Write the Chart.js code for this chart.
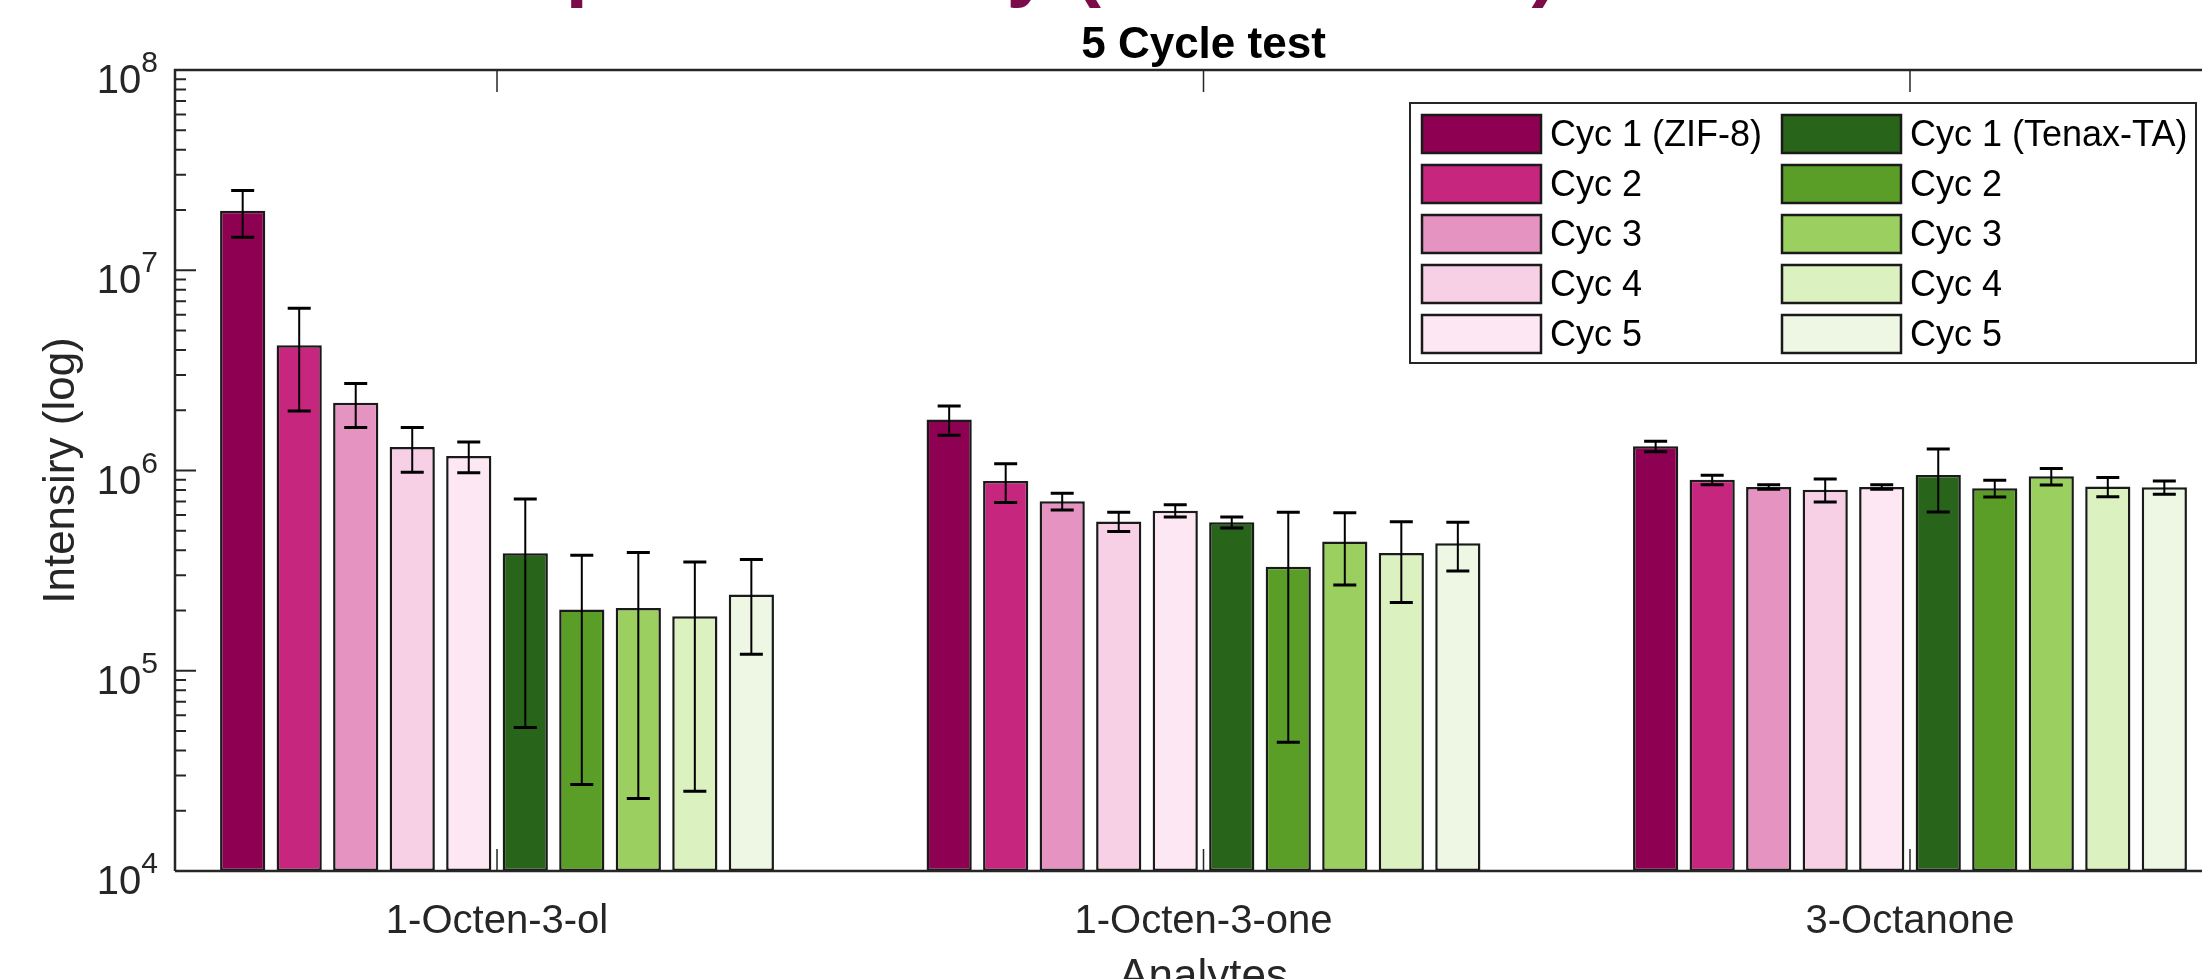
<!DOCTYPE html>
<html>
<head>
<meta charset="utf-8">
<script src="https://cdn.jsdelivr.net/npm/chart.js@4.4.1/dist/chart.umd.min.js"></script>
<style>
  html, body { margin: 0; padding: 0; background: #fff; overflow: hidden; }
  #wrap { width: 2202px; height: 979px; overflow: hidden; }
  canvas { display: block; }
</style>
</head>
<body>
<div id="wrap"><canvas id="graficoCiclos" width="2240" height="1010"></canvas></div>
<script>
// ── Data ──────────────────────────────────
const categories = ['1-Octen-3-ol', '1-Octen-3-one', '3-Octanone'];
const seriesLabels = ['Cyc 1 (ZIF-8)', 'Cyc 2', 'Cyc 3', 'Cyc 4', 'Cyc 5',
                      'Cyc 1 (Tenax-TA)', 'Cyc 2', 'Cyc 3', 'Cyc 4', 'Cyc 5'];
const yTickValues = [1e4, 1e5, 1e6, 1e7, 1e8];

const zifCyc1   = [1.98e7, 1.80e6, 1.32e6];
const zifCyc2   = [4.22e6, 8.87e5, 8.98e5];
const zifCyc3   = [2.18e6, 7.02e5, 8.28e5];
const zifCyc4   = [1.31e6, 5.57e5, 8.02e5];
const zifCyc5   = [1.18e6, 6.30e5, 8.28e5];
const tenaxCyc1 = [3.86e5, 5.51e5, 9.50e5];
const tenaxCyc2 = [2.02e5, 3.31e5, 8.15e5];
const tenaxCyc3 = [2.06e5, 4.42e5, 9.35e5];
const tenaxCyc4 = [1.87e5, 3.87e5, 8.31e5];
const tenaxCyc5 = [2.40e5, 4.33e5, 8.24e5];

// standard deviations (error bars)
const zifErr1   = [5.2e6, 3.0e5, 8.0e4];
const zifErr2   = [2.24e6, 1.94e5, 5.0e4];
const zifErr3   = [5.4e5, 6.7e4, 2.1e4];
const zifErr4   = [3.3e5, 6.1e4, 1.05e5];
const zifErr5   = [2.06e5, 4.4e4, 2.1e4];
const tenaxErr1 = [3.34e5, 3.5e4, 3.3e5];
const tenaxErr2 = [1.75e5, 2.87e5, 7.8e4];
const tenaxErr3 = [1.83e5, 1.74e5, 8.8e4];
const tenaxErr4 = [1.62e5, 1.68e5, 9.1e4];
const tenaxErr5 = [1.19e5, 1.18e5, 6.2e4];

const seriesValues = [zifCyc1, zifCyc2, zifCyc3, zifCyc4, zifCyc5,
                      tenaxCyc1, tenaxCyc2, tenaxCyc3, tenaxCyc4, tenaxCyc5];
const seriesErrors = [zifErr1, zifErr2, zifErr3, zifErr4, zifErr5,
                      tenaxErr1, tenaxErr2, tenaxErr3, tenaxErr4, tenaxErr5];
const colors = ['#8e0152', '#c7267e', '#e593c0', '#f8d0e6', '#fde7f2',
                '#28641a', '#5a9e27', '#9bcf60', '#dcf1c0', '#eef7e4'];

const FONT = "'Liberation Sans', Arial, Helvetica, sans-serif";
const AXIS = '#262626';

// ── Error bars ────────────────────────────
const errorBars = {
  id: 'errorBars',
  afterDatasetsDraw(chart) {
    const { ctx, scales: { y } } = chart;
    ctx.save();
    ctx.strokeStyle = '#000';
    chart.data.datasets.forEach((ds, i) => {
      const meta = chart.getDatasetMeta(i);
      meta.data.forEach((bar, j) => {
        const v = ds.data[j].y, e = ds.errors[j];
        const yHi = y.getPixelForValue(v + e);
        const yLo = y.getPixelForValue(Math.max(v - e, y.min));
        ctx.lineWidth = 2;
        ctx.beginPath();
        ctx.moveTo(bar.x, yHi); ctx.lineTo(bar.x, yLo);
        ctx.stroke();
        ctx.lineWidth = 3;
        ctx.beginPath();
        ctx.moveTo(bar.x - 11.5, yHi); ctx.lineTo(bar.x + 11.5, yHi);
        ctx.moveTo(bar.x - 11.5, yLo); ctx.lineTo(bar.x + 11.5, yLo);
        ctx.stroke();
      });
    });
    ctx.restore();
  }
};

// ── Axes box, inward ticks, y labels, title, legend ──
const matlabAxes = {
  id: 'matlabAxes',
  afterDraw(chart) {
    const { ctx, chartArea: a, scales: { x, y } } = chart;
    ctx.save();

    // cropped slide heading above the figure
    ctx.fillStyle = '#7b0b49';
    ctx.font = `bold 81px ${FONT}`;
    ctx.textAlign = 'left';
    ctx.textBaseline = 'alphabetic';
    ctx.fillText('Reproducibility (ZIF-8 vs TA)', 462, -9);

    // axes title, centred over the plot box
    ctx.fillStyle = '#000';
    ctx.font = `bold 44px ${FONT}`;
    ctx.textAlign = 'center';
    ctx.fillText('5 Cycle test', (a.left + a.right) / 2, 58);

    // axis lines
    ctx.strokeStyle = AXIS;
    ctx.lineWidth = 2.5;
    ctx.beginPath();
    ctx.moveTo(a.left, a.bottom); ctx.lineTo(a.left, a.top); ctx.lineTo(a.right, a.top);
    ctx.moveTo(a.left, a.bottom); ctx.lineTo(a.right, a.bottom);
    ctx.stroke();

    // y ticks (log, inward)
    ctx.lineWidth = 2;
    ctx.beginPath();
    for (let p = 4; p < 8; p++) {
      for (let k = 1; k < 10; k++) {
        const py = y.getPixelForValue(k * Math.pow(10, p));
        ctx.moveTo(a.left, py); ctx.lineTo(a.left + (k === 1 ? 21 : 11), py);
      }
    }
    const pTop = y.getPixelForValue(1e8);
    ctx.moveTo(a.left, pTop); ctx.lineTo(a.left + 21, pTop);
    ctx.stroke();

    // x ticks top and bottom (inward)
    ctx.lineWidth = 1.5;
    ctx.beginPath();
    x.ticks.forEach(t => {
      const px = x.getPixelForValue(t.value);
      ctx.moveTo(px, a.top); ctx.lineTo(px, a.top + 22);
      ctx.moveTo(px, a.bottom); ctx.lineTo(px, a.bottom - 22);
    });
    ctx.stroke();

    // y tick labels 10^n
    ctx.fillStyle = AXIS;
    ctx.textAlign = 'right';
    ctx.textBaseline = 'alphabetic';
    yTickValues.forEach(v => {
      const py = y.getPixelForValue(v);
      const exp = String(Math.round(Math.log10(v)));
      ctx.font = `30px ${FONT}`;
      const supW = ctx.measureText(exp).width;
      ctx.fillText(exp, 158, py + 2);
      ctx.font = `40px ${FONT}`;
      ctx.fillText('10', 158 - supW, py + 23);
    });

    // legend (two columns, MATLAB style)
    const bx = 1410, by = 103, bw = 786, bh = 260;
    ctx.fillStyle = '#fff';
    ctx.fillRect(bx, by, bw, bh);
    ctx.strokeStyle = AXIS;
    ctx.lineWidth = 2;
    ctx.strokeRect(bx, by, bw, bh);
    ctx.font = `36px ${FONT}`;
    ctx.textAlign = 'left';
    ctx.textBaseline = 'middle';
    chart.data.datasets.forEach((ds, i) => {
      const sx = i < 5 ? 1422 : 1782;
      const cy = 134 + (i % 5) * 50;
      ctx.fillStyle = ds.backgroundColor;
      ctx.fillRect(sx, cy - 19, 119, 38);
      ctx.strokeStyle = '#1a1a1a';
      ctx.lineWidth = 2.5;
      ctx.strokeRect(sx, cy - 19, 119, 38);
      ctx.fillStyle = '#000';
      ctx.fillText(ds.label, sx + 128, cy + 2);
    });

    ctx.restore();
  }
};

// ── Chart ─────────────────────────────────
const datasets = seriesValues.map((vals, i) => ({
  label: seriesLabels[i],
  data: vals.map((v, j) => ({ x: j + 1, y: v })),
  errors: seriesErrors[i],
  backgroundColor: colors[i],
  borderColor: '#1a1a1a',
  borderWidth: 2.5,
  borderSkipped: false,
  categoryPercentage: 0.8,
  barPercentage: 0.8
}));

new Chart(document.getElementById('graficoCiclos').getContext('2d'), {
  type: 'bar',
  data: { datasets },
  options: {
    responsive: false,
    animation: false,
    devicePixelRatio: 1,
    layout: { padding: { left: 0, right: 8, top: 70, bottom: 0 } },
    plugins: {
      legend: { display: false },
      tooltip: { enabled: false },
      title: { display: false }
    },
    scales: {
      x: {
        type: 'linear',
        offset: false,
        min: 0.5442,
        max: 3.4558,
        afterBuildTicks: s => { s.ticks = categories.map((c, i) => ({ value: i + 1 })); },
        afterFit: s => { s.height = 139; },
        grid: { display: false, drawTicks: false, offset: false },
        border: { display: false },
        ticks: {
          color: AXIS,
          font: { family: FONT, size: 40 },
          padding: 27,
          maxRotation: 0,
          autoSkip: false,
          callback: v => categories[v - 1]
        },
        title: {
          display: true,
          text: 'Analytes',
          color: AXIS,
          font: { family: FONT, size: 44 },
          padding: { top: 0, bottom: 5.3 }
        }
      },
      y: {
        type: 'logarithmic',
        min: 1e4,
        max: 1e8,
        afterFit: s => { s.width = 175; },
        grid: { display: false, drawTicks: false },
        border: { display: false },
        ticks: { display: false },
        title: {
          display: true,
          text: 'Intensiry (log)',
          color: AXIS,
          font: { family: FONT, size: 44 },
          padding: { top: 35.6, bottom: 0 }
        }
      }
    }
  },
  plugins: [errorBars, matlabAxes]
});
</script>
</body>
</html>
